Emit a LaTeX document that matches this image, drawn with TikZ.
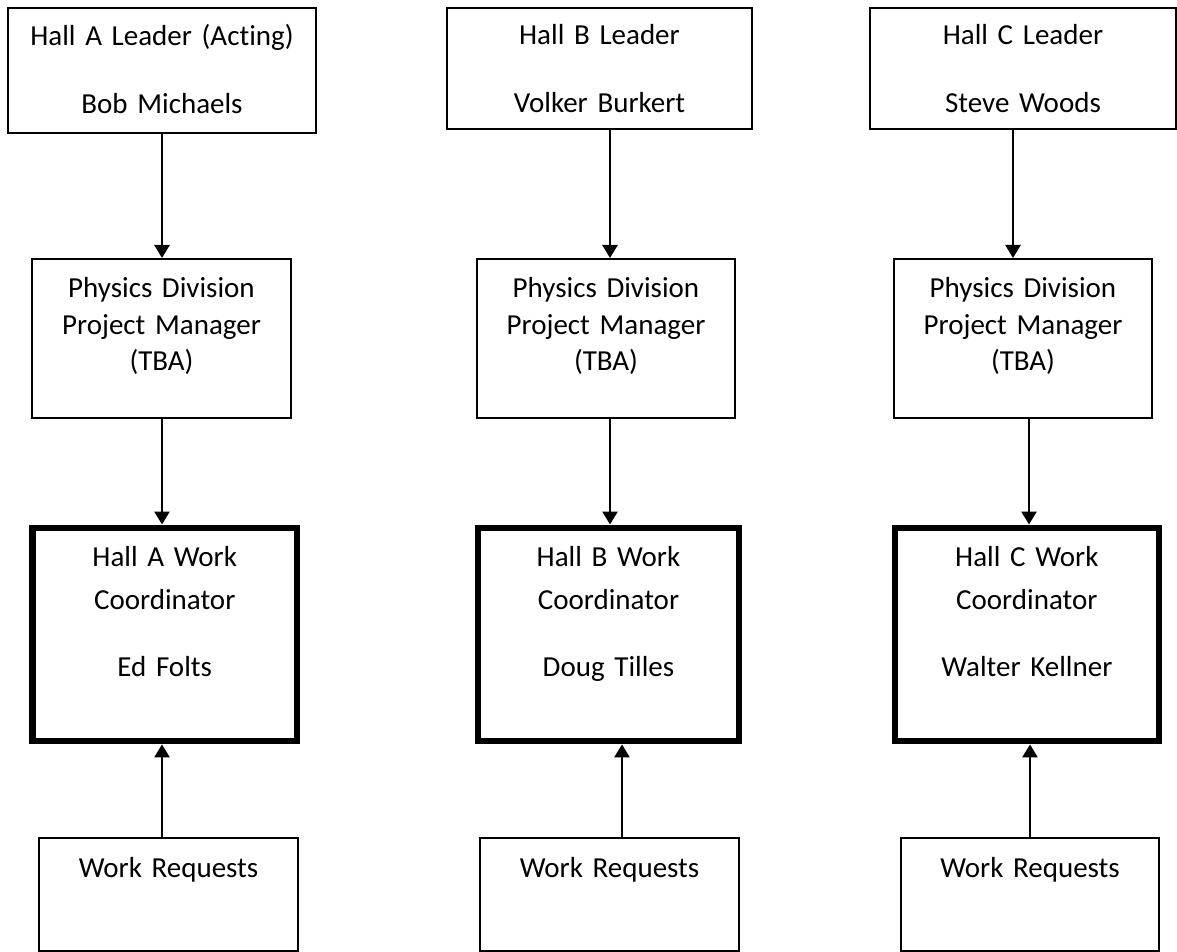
\documentclass[tikz,border=0pt]{standalone}
\usepackage{fontspec}
\setmainfont{Carlito}[Ligatures=NoCommon,WordSpace=0.8]
\usetikzlibrary{arrows.meta}

\begin{document}
\begin{tikzpicture}[x=0.5pt,y=-0.5pt,
  font={\fontsize{14.5pt}{18.25pt}\selectfont},
  box/.style={draw,line width=1pt,inner sep=0pt,align=center,anchor=north},
  lead/.style={box,text height=18.25pt,text depth=42.25pt},
  pm/.style={box,text width=129pt,text height=19.35pt,text depth=60.15pt},
  wc/.style={box,line width=3.2pt,text height=19.5pt,text depth=87.25pt},
  req/.style={box,text height=19.85pt,text depth=36.65pt},
  arr/.style={-{Triangle[length=6.5pt,width=7.5pt]},line width=1.3pt}]
\useasboundingbox (0,0) rectangle (1177,952);
% ---------- Row 1: hall leaders ----------
\node[lead,text width=154pt,text height=18.75pt,text depth=44pt] (leadA) at (162,7) {Hall A Leader (Acting)\\[15.75pt]Bob Michaels};
\node[lead,text width=152.5pt] (leadB) at (599.5,7) {Hall B Leader\\[15.75pt]Volker Burkert};
\node[lead,text width=153pt] (leadC) at (1023,7) {Hall C Leader\\[15.75pt]Steve Woods};
% ---------- Row 2: project managers ----------
\node[pm,text width=129.5pt] (pmA) at (161.5,258) {Physics Division\\Project Manager\\(TBA)};
\node[pm] (pmB) at (606,258) {Physics Division\\Project Manager\\(TBA)};
\node[pm] (pmC) at (1023,258) {Physics Division\\Project Manager\\(TBA)};
% ---------- Row 3: work coordinators ----------
\node[wc,text width=132.25pt] (wcA) at (164.75,524.5) {Hall A Work\\[3pt]Coordinator\\[15.25pt]Ed Folts};
\node[wc,text width=130.5pt] (wcB) at (608.5,524.5) {Hall B Work\\[3pt]Coordinator\\[15.25pt]Doug Tilles};
\node[wc,text width=132.15pt] (wcC) at (1026.85,524.5) {Hall C Work\\[3pt]Coordinator\\[15.25pt]Walter Kellner};
% ---------- Row 4: work requests ----------
\node[req,text width=129.5pt] (reqA) at (168.5,837) {Work Requests};
\node[req,text width=129.5pt] (reqB) at (609.5,837) {Work Requests};
\node[req,text width=129pt] (reqC) at (1030,837) {Work Requests};
% ---------- connectors ----------
\draw[arr] (leadA.south) -- ([xshift=0.25pt]pmA.north);
\draw[arr] ([xshift=0.25pt]pmA.south) -- ([xshift=-1.375pt]wcA.north);
\draw[arr] ([xshift=-3.25pt]reqA.north) -- ([xshift=-1.375pt]wcA.south);
\draw[arr] ([xshift=5.25pt]leadB.south) -- ([xshift=2pt]pmB.north);
\draw[arr] ([xshift=2pt]pmB.south) -- ([xshift=0.75pt]wcB.north);
\draw[arr] ([xshift=6.25pt]reqB.north) -- ([xshift=6.75pt]wcB.south);
\draw[arr] ([xshift=-5pt]leadC.south) -- ([xshift=-5pt]pmC.north);
\draw[arr] ([xshift=3pt]pmC.south) -- ([xshift=1.075pt]wcC.north);
\draw[arr] (reqC.north) -- ([xshift=1.575pt]wcC.south);
\end{tikzpicture}
\end{document}
